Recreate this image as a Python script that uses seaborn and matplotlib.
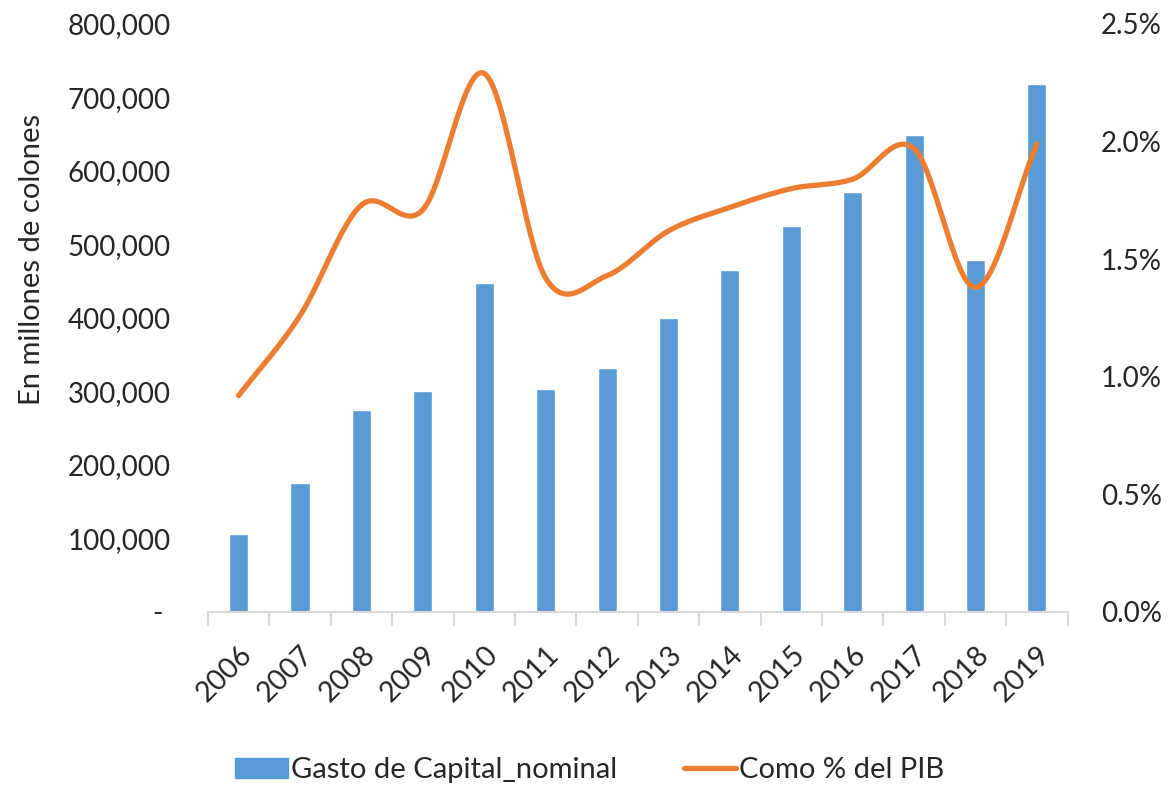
import numpy as np
import pandas as pd
import seaborn as sns
import matplotlib.pyplot as plt
from matplotlib.ticker import FuncFormatter, PercentFormatter
from matplotlib.patches import Patch
from matplotlib.lines import Line2D

# datos
years = ['2006', '2007', '2008', '2009', '2010', '2011', '2012',
         '2013', '2014', '2015', '2016', '2017', '2018', '2019']
gasto = [106000, 175000, 275000, 301000, 448000, 303000, 332000,
         400000, 465000, 525000, 571000, 649000, 479000, 718000]
pct_pib = [0.92, 1.26, 1.73, 1.71, 2.29, 1.42, 1.43,
           1.62, 1.72, 1.80, 1.84, 1.97, 1.38, 1.99]

bar_color = '#5B9BD5'
line_color = '#ED7D31'

sns.set_style('white')
plt.rcParams['font.family'] = ['Lato', 'DejaVu Sans']

df = pd.DataFrame({'anio': years, 'gasto': gasto, 'pct': pct_pib})

fig = plt.figure(figsize=(11.68, 7.86), dpi=100)
ax = fig.add_axes([0.178, 0.2214, 0.736, 0.7481])

sns.barplot(data=df, x='anio', y='gasto', color=bar_color, width=0.31,
            saturation=1, ax=ax)
ax.set_xlim(-0.5, len(years) - 0.5)
ax.set_ylim(0, 800000)
ax.set_yticks(np.arange(0, 800001, 100000))
ax.yaxis.set_major_formatter(FuncFormatter(
    lambda v, p: '- ' if v == 0 else f'{int(v):,}'))
ax.set_xlabel('')
ax.set_ylabel('En millones de colones', fontsize=21)
ax.yaxis.set_label_coords(-0.19, 0.60)
ax.tick_params(axis='y', length=0, labelsize=20, pad=27)
ax.set_xticks(np.arange(len(years)))
ax.set_xticklabels(years, rotation=45, ha='right', rotation_mode='anchor')
ax.tick_params(axis='x', which='major', length=0, labelsize=20.5, pad=21)
ax.set_xticks(np.arange(-0.5, len(years)), minor=True)
ax.tick_params(axis='x', which='minor', bottom=True, length=10, width=1.5,
               color='#d9d9d9', direction='out')
for s in ['top', 'left', 'right']:
    ax.spines[s].set_visible(False)
ax.spines['bottom'].set_color('#d9d9d9')
ax.spines['bottom'].set_linewidth(1.5)

# linea suavizada (Catmull-Rom, como Excel)
ax2 = ax.twinx()
xs = np.arange(len(years), dtype=float)
ys = np.array(pct_pib, dtype=float)
px = np.concatenate([[2 * xs[0] - xs[1]], xs, [2 * xs[-1] - xs[-2]]])
py = np.concatenate([[2 * ys[0] - ys[1]], ys, [2 * ys[-1] - ys[-2]]])
cx, cy = [], []
t = np.linspace(0, 1, 30)
for i in range(1, len(px) - 2):
    for arr, out in ((px, cx), (py, cy)):
        p0, p1, p2, p3 = arr[i - 1], arr[i], arr[i + 1], arr[i + 2]
        out.extend(0.5 * ((2 * p1) + (-p0 + p2) * t +
                          (2 * p0 - 5 * p1 + 4 * p2 - p3) * t ** 2 +
                          (-p0 + 3 * p1 - 3 * p2 + p3) * t ** 3))
ax2.plot(cx, cy, color=line_color, lw=3.8, solid_capstyle='round')
ax2.set_ylim(0, 2.5)
ax2.set_yticks(np.arange(0, 2.51, 0.5))
ax2.yaxis.set_major_formatter(PercentFormatter(decimals=1))
ax2.tick_params(axis='y', length=0, labelsize=20, pad=24)
for s in ['top', 'left', 'right', 'bottom']:
    ax2.spines[s].set_visible(False)
ax2.set_xlim(-0.5, len(years) - 0.5)

handles = [Patch(color=bar_color, label='Gasto de Capital_nominal'),
           Line2D([0], [0], color=line_color, lw=3.8, label='Como % del PIB',
                  solid_capstyle='round')]
fig.legend(handles=handles, loc='center', bbox_to_anchor=(0.505, 0.02),
           ncol=2, frameon=False, fontsize=21, handlelength=1.8,
           handletextpad=0.1, columnspacing=2.3)

fig.savefig('out.png', dpi=100)
